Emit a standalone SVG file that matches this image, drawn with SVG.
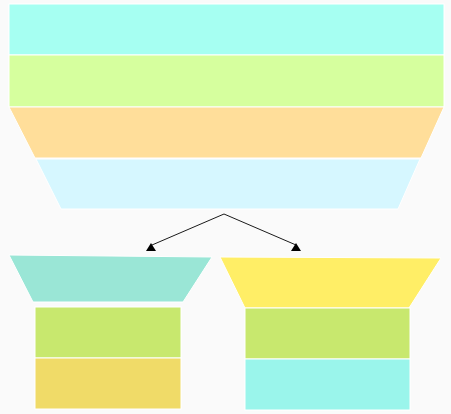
<svg xmlns="http://www.w3.org/2000/svg" width="451" height="414" viewBox="0 0 451 414">
<style>
.s{stroke:#ffffff;stroke-width:1}
.c{stroke:#1a1a1a;stroke-width:1;fill:none}
.h{fill:#000000}
</style>
<rect width="451" height="414" fill="#fafafa"/>
<g id="top-funnel">
<rect id="band1" class="s" x="9" y="4" width="435" height="51" fill="#a6fff2"/>
<rect id="band2" class="s" x="9" y="55" width="435" height="52" fill="#d6ff9e"/>
<polygon id="band3" class="s" points="9,107 444,107 421,158 35,158" fill="#ffde9a"/>
<polygon id="band4" class="s" points="36,159 420,159 398,209 61,209" fill="#d6f7ff"/>
</g>
<g id="connectors">
<line class="c" x1="224" y1="214" x2="152" y2="245"/>
<line class="c" x1="224" y1="214" x2="296" y2="245"/>
<polygon class="h" points="151,243 146,251 156,251"/>
<polygon class="h" points="296,243 291,251 301,251"/>
</g>
<g id="left-stack">
<polygon id="left-top" class="s" points="9,255 212,257 183,302 33,302" fill="#9ae6d6"/>
<rect id="left-mid" class="s" x="35" y="307" width="146" height="51" fill="#c8e86e"/>
<rect id="left-bot" class="s" x="35" y="358" width="146" height="51" fill="#f0db68"/>
</g>
<g id="right-stack">
<polygon id="right-top" class="s" points="220,257 441,258 409,308 245,308" fill="#ffee66"/>
<rect id="right-mid" class="s" x="245" y="308" width="165" height="51" fill="#c8e86e"/>
<rect id="right-bot" class="s" x="245" y="359" width="165" height="51" fill="#9af5eb"/>
</g>
</svg>
